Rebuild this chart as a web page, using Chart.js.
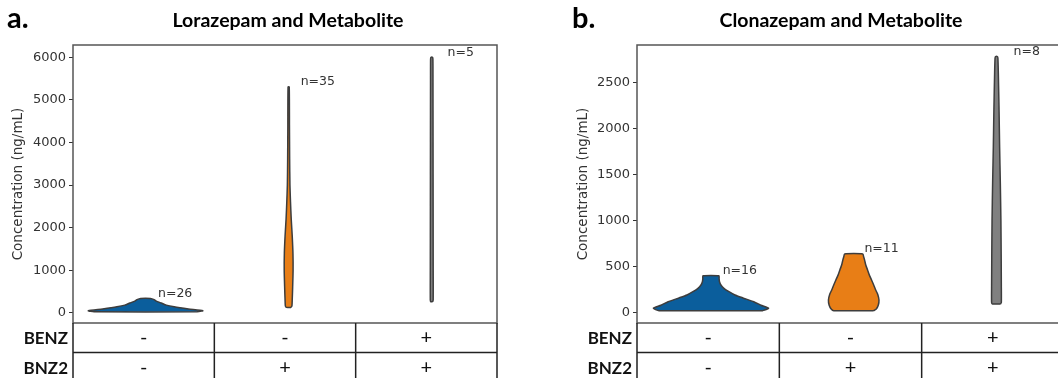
<!DOCTYPE html>
<html>
<head>
<meta charset="utf-8">
<script src="https://cdn.jsdelivr.net/npm/chart.js@4.4.1/dist/chart.umd.min.js"></script>
<style>
  html, body { margin: 0; padding: 0; background: #fff; overflow: hidden; }
  #wrap { position: relative; width: 1058px; height: 378px; overflow: hidden; }
  #chartA { position: absolute; left: 0; top: 0; }
  #chartB { position: absolute; left: 530px; top: 0; }
</style>
</head>
<body>
<div id="wrap">
  <canvas id="chartA" width="530" height="378"></canvas>
  <canvas id="chartB" width="540" height="378"></canvas>
</div>
<script>
// groups along the x axis, and the table rows under them
var groups = ['BENZ- BNZ2-', 'BENZ- BNZ2+', 'BENZ+ BNZ2+'];
var benzRow = ['-', '-', '+'];
var bnz2Row = ['-', '+', '+'];

var lorazN = [26, 35, 5];
var clonN = [16, 11, 8];

var lorazTicks = [0, 1000, 2000, 3000, 4000, 5000, 6000];
var clonTicks = [0, 500, 1000, 1500, 2000, 2500];

// violin outlines: concentration levels (ng/mL) and half widths (share of a group)
var lorazLevels1 = [23, 47, 90, 140, 180, 230, 275, 310, 338];
var lorazWidths1 = [0.36, 0.40, 0.30, 0.20, 0.145, 0.11, 0.075, 0.06, 0.035];
var lorazLevels2 = [127, 160, 300, 600, 1000, 1400, 1800, 2200, 2600, 3000, 3600, 4400, 5305];
var lorazWidths2 = [0.017, 0.023, 0.025, 0.028, 0.031, 0.030, 0.025, 0.018, 0.013, 0.009, 0.007, 0.0056, 0.004];
var lorazLevels3 = [258, 300, 1000, 2500, 4000, 5500, 5960, 6000];
var lorazWidths3 = [0.006, 0.010, 0.010, 0.0095, 0.009, 0.0085, 0.008, 0.005];

var clonLevels1 = [22, 48, 80, 119, 160, 192, 230, 264, 300, 336, 370, 400];
var clonWidths1 = [0.364, 0.404, 0.35, 0.30, 0.224, 0.168, 0.123, 0.091, 0.07, 0.06, 0.057, 0.056];
var clonLevels2 = [22, 40, 80, 138, 200, 246, 300, 354, 410, 463, 520, 572, 610, 637];
var clonWidths2 = [0.140, 0.158, 0.172, 0.177, 0.168, 0.154, 0.140, 0.125, 0.109, 0.097, 0.084, 0.076, 0.069, 0.064];
var clonLevels3 = [94, 110, 300, 600, 1000, 1400, 1800, 2200, 2600, 2760, 2777];
var clonWidths3 = [0.028, 0.034, 0.034, 0.033, 0.031, 0.027, 0.022, 0.018, 0.013, 0.010, 0.006];

var colors = ['#0b5e9c', '#e87e16', '#808080'];

function violin(pos, levels, widths) {
    var pts = [];
    for (var i = 0; i < levels.length; i++) pts.push({x: pos + widths[i], y: levels[i]});
    for (var j = levels.length - 1; j >= 0; j--) pts.push({x: pos - widths[j], y: levels[j]});
    pts.push(pts[0]);
    return pts;
}

function violinSet(pos, levels, widths) {
    return {
        label: groups[pos],
        data: violin(pos, levels, widths),
        showLine: true,
        fill: 'shape',
        backgroundColor: colors[pos],
        borderColor: '#3d3d3d',
        borderWidth: 1.5,
        pointRadius: 0,
        tension: 0.2
    };
}

// frame, title, n= labels and the BENZ / BNZ2 table
var decor = {
    id: 'decor',
    afterDraw: function (chart, args, o) {
        var ctx = chart.ctx, a = chart.chartArea;
        var xs = chart.scales.x, ys = chart.scales.y;
        var colW = (a.right - a.left) / 3, rowH = 29.5;
        ctx.save();

        ctx.strokeStyle = '#555';
        ctx.lineWidth = 1.5;
        ctx.strokeRect(a.left, a.top, a.right - a.left, a.bottom - a.top);

        ctx.strokeStyle = '#222';
        ctx.beginPath();
        for (var r = 1; r <= 2; r++) {
            ctx.moveTo(a.left, a.bottom + r * rowH);
            ctx.lineTo(a.right, a.bottom + r * rowH);
        }
        for (var c = 0; c <= 3; c++) {
            ctx.moveTo(a.left + c * colW, a.bottom);
            ctx.lineTo(a.left + c * colW, chart.height);
        }
        ctx.stroke();

        ctx.fillStyle = '#111';
        ctx.textBaseline = 'middle';
        ctx.textAlign = 'right';
        ctx.font = 'bold 17px Lato';
        ctx.fillText('BENZ', a.left - 5, a.bottom + rowH / 2 + 1);
        ctx.fillText('BNZ2', a.left - 5, a.bottom + rowH * 1.5 + 1);

        ctx.textAlign = 'center';
        ctx.font = '20px Lato';
        for (var k = 0; k < 3; k++) {
            var cx = a.left + colW * (k + 0.5);
            ctx.fillText(benzRow[k], cx, a.bottom + rowH / 2);
            ctx.fillText(bnz2Row[k], cx, a.bottom + rowH * 1.5);
        }

        ctx.fillStyle = '#000';
        ctx.font = 'bold 19.5px Lato';
        ctx.fillText(o.title, o.titleX, 21);
        ctx.textAlign = 'left';
        ctx.font = 'bold 29px Lato';
        ctx.fillText(o.letter, o.letterX, 19);

        ctx.fillStyle = '#333';
        ctx.font = '12.5px "DejaVu Sans"';
        for (var i = 0; i < 3; i++) {
            ctx.fillText('n=' + o.n[i], xs.getPixelForValue(i + o.nOffset[i]), ys.getPixelForValue(o.tops[i]) - 5);
        }
        ctx.restore();
    }
};

function makePanel(id, sets, ticks, yMin, yMax, xMin, xMax, padLeft, padRight, axisW, deco) {
    return new Chart(document.getElementById(id), {
        type: 'scatter',
        data: { datasets: sets },
        options: {
            responsive: false,
            animation: false,
            events: [],
            layout: { padding: { left: padLeft, right: padRight, top: 45, bottom: 55 } },
            plugins: { legend: { display: false }, tooltip: { enabled: false }, decor: deco },
            scales: {
                x: { type: 'linear', min: xMin, max: xMax, display: false },
                y: {
                    type: 'linear', min: yMin, max: yMax,
                    afterBuildTicks: function (s) { s.ticks = ticks.map(function (v) { return {value: v}; }); },
                    afterFit: function (s) { s.width = axisW; s.paddingTop = 0; s.paddingBottom = 0; },
                    ticks: {
                        font: { family: '"DejaVu Sans"', size: 13 }, color: '#333', padding: 3,
                        callback: function (v) { return String(v); }
                    },
                    grid: { drawOnChartArea: false, drawTicks: true, tickLength: 4, color: '#333' },
                    border: { display: false },
                    title: {
                        display: true, text: 'Concentration (ng/mL)',
                        font: { family: '"DejaVu Sans"', size: 13.5 }, color: '#333',
                        padding: { top: 10, bottom: 0 }
                    }
                }
            }
        },
        plugins: [decor]
    });
}

makePanel('chartA', [
    violinSet(0, lorazLevels1, lorazWidths1),
    violinSet(1, lorazLevels2, lorazWidths2),
    violinSet(2, lorazLevels3, lorazWidths3)
], lorazTicks, -240, 6290, -0.507, 2.456, 0, 33, 73, {
    letter: 'a.', letterX: 7, title: 'Lorazepam and Metabolite', titleX: 288,
    n: lorazN, nOffset: [0.087, 0.084, 0.11],
    tops: [lorazLevels1[lorazLevels1.length - 1], lorazLevels2[lorazLevels2.length - 1], lorazLevels3[lorazLevels3.length - 1]]
});

makePanel('chartB', [
    violinSet(0, clonLevels1, clonWidths1),
    violinSet(1, clonLevels2, clonWidths2),
    violinSet(2, clonLevels3, clonWidths3)
], clonTicks, -112, 2903, -0.518, 2.473, 35, 6, 72, {
    letter: 'b.', letterX: 42, title: 'Clonazepam and Metabolite', titleX: 311,
    n: clonN, nOffset: [0.082, 0.075, 0.12],
    tops: [clonLevels1[clonLevels1.length - 1], clonLevels2[clonLevels2.length - 1], clonLevels3[clonLevels3.length - 1]]
});
</script>
</body>
</html>
